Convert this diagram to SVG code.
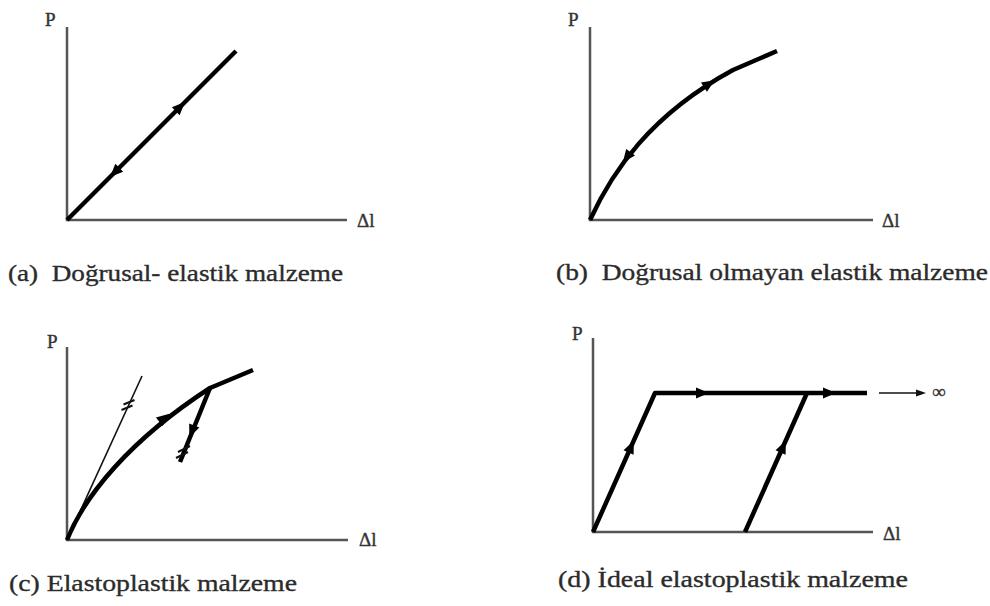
<svg xmlns="http://www.w3.org/2000/svg" width="990" height="606" viewBox="0 0 990 606">
<style>
.axis{stroke:#555;stroke-width:2.5;fill:none}
.thick{stroke:#000;stroke-width:4.5;fill:none;stroke-linejoin:round}
.thin{stroke:#111;stroke-width:1.6;fill:none}
.tick{stroke:#111;stroke-width:2;fill:none}
.sym{font-family:"Liberation Serif","Times New Roman",serif;font-size:19px;fill:#333;stroke:#333;stroke-width:0.4}
.cap{font-family:"Liberation Serif","Times New Roman",serif;font-size:24px;fill:#2b2b2b;stroke:#2b2b2b;stroke-width:0.35}
</style>
<defs>
<path id="ah" d="M7,0 L-6,-5.5 L-6,5.5 Z" fill="#000"/>
<path id="ahs" d="M5,0 L-5,-3.5 L-5,3.5 Z" fill="#111"/>
</defs>
<rect width="990" height="606" fill="#fff"/>

<g id="panel-a">
<path class="axis" d="M67,27 L67,220 L347,220"/>
<text class="sym" x="45" y="26">P</text>
<text class="sym" x="357" y="227">Δl</text>
<path class="thick" d="M67,220 L236,51"/>
<use href="#ah" transform="translate(180,107) rotate(-45)"/>
<use href="#ah" transform="translate(115,172) rotate(135)"/>
<text class="cap" x="8" y="281" textLength="335" lengthAdjust="spacingAndGlyphs" xml:space="preserve">(a)  Doğrusal- elastik malzeme</text>
</g>

<g id="panel-b">
<path class="axis" d="M590,27 L590,220 L873,220"/>
<text class="sym" x="568" y="26">P</text>
<text class="sym" x="882" y="227">Δl</text>
<path class="thick" d="M590,220 C612,172 650,115 733,70 L777,51"/>
<use href="#ah" transform="translate(627,157) rotate(127)"/>
<use href="#ah" transform="translate(709,84) rotate(-32.5)"/>
<text class="cap" x="556" y="280" textLength="432" lengthAdjust="spacingAndGlyphs" xml:space="preserve">(b)  Doğrusal olmayan elastik malzeme</text>
</g>

<g id="panel-c">
<path class="axis" d="M67,347 L67,540 L348,540"/>
<text class="sym" x="47" y="348">P</text>
<text class="sym" x="359" y="546">Δl</text>
<path class="thin" d="M67,540 L142,376"/>
<path class="tick" d="M121.5,410 L132.5,405.5 M123.5,404.5 L134.5,400"/>
<path class="thick" d="M67,540 C85,495 130,440 210,388 L253,370"/>
<path class="thick" d="M210,388 L180,462"/>
<use href="#ah" transform="translate(164,418) rotate(-38.5)"/>
<use href="#ah" transform="translate(192,431) rotate(112)"/>
<path class="tick" d="M176,458 L188,452 M178,452 L190,446"/>
<text class="cap" x="9" y="591" textLength="288" lengthAdjust="spacingAndGlyphs" xml:space="preserve">(c) Elastoplastik malzeme</text>
</g>

<g id="panel-d">
<path class="axis" d="M593,338 L593,532 L873,532"/>
<text class="sym" x="572" y="340">P</text>
<text class="sym" x="883" y="540">Δl</text>
<path class="thick" d="M593,532 L655,393 L867,393"/>
<path class="thick" d="M745,532 L807,393"/>
<use href="#ah" transform="translate(631,447) rotate(-66)"/>
<use href="#ah" transform="translate(783,447) rotate(-66)"/>
<use href="#ah" transform="translate(702,393)"/>
<use href="#ah" transform="translate(829,393)"/>
<path class="thin" d="M879,393 L918,393"/>
<use href="#ahs" transform="translate(921,393)"/>
<text class="sym" x="932" y="398" font-size="17">∞</text>
<text class="cap" x="558" y="587" textLength="350" lengthAdjust="spacingAndGlyphs" xml:space="preserve">(d) İdeal elastoplastik malzeme</text>
</g>
</svg>
